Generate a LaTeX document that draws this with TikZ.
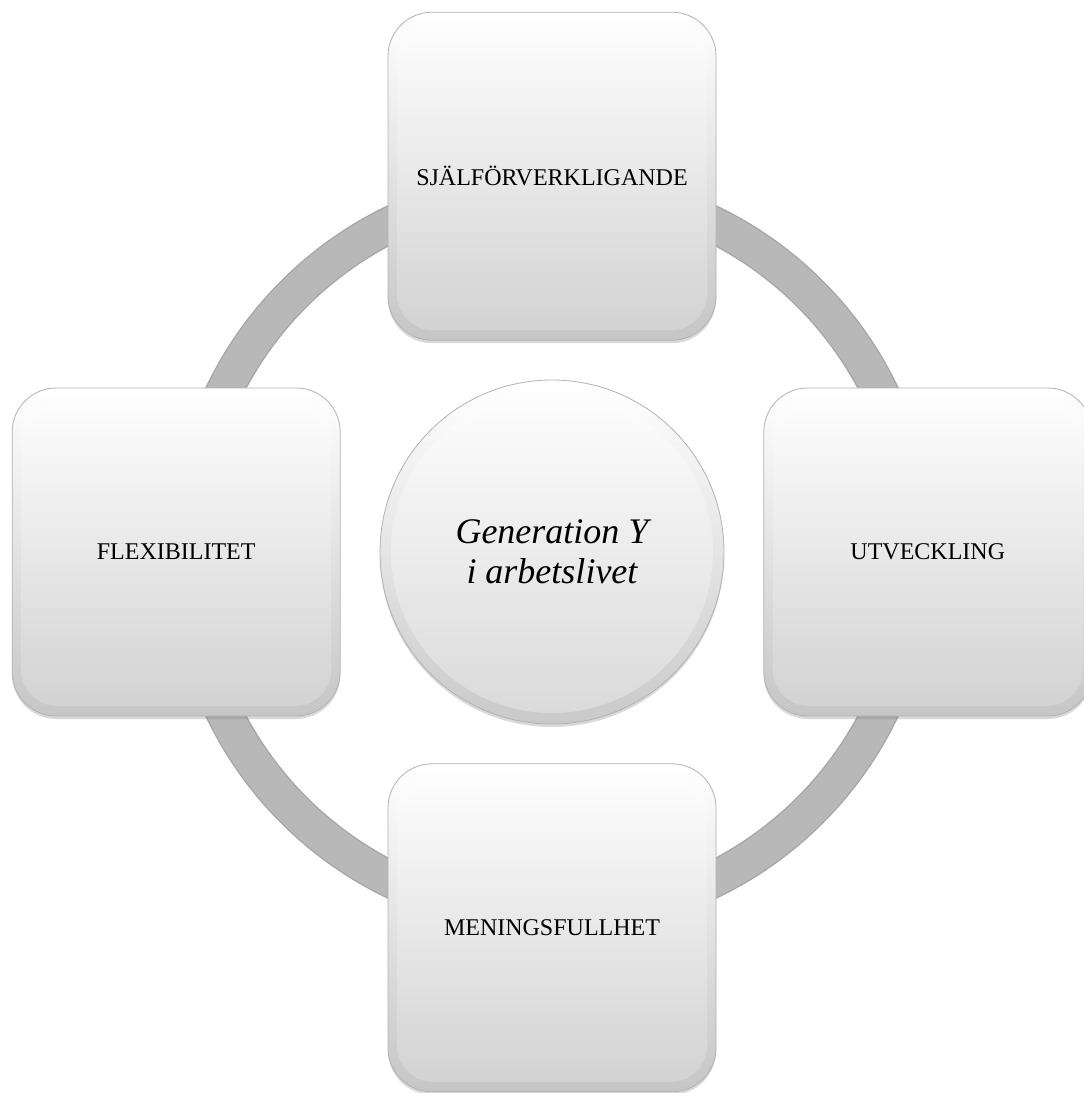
\documentclass[tikz,border=0pt]{standalone}
\usepackage{fontspec}
\setmainfont{Liberation Serif}
\usetikzlibrary{positioning,shadows}

\begin{document}
\begin{tikzpicture}[
  x=1pt, y=-1pt,
  node distance=39pt,
  ring/.style={line width=36pt, draw=gray!56},
  ringedge/.style={line width=1.2pt, draw=gray!70},
  cyclebox/.style={draw=gray!60, line width=0.8pt, rounded corners=44pt,
    minimum width=328pt, minimum height=328pt, align=center,
    top color=white, bottom color=gray!45,
    font=\fontsize{24}{28}\selectfont,
    drop shadow={shadow xshift=0pt, shadow yshift=-3pt, opacity=0.3, fill=gray},
    path picture={\shade[rounded corners=36pt, top color=white, middle color=gray!4, bottom color=gray!36]
      ([shift={(9pt,10pt)}]path picture bounding box.south west) rectangle
      ([shift={(-9pt,-12pt)}]path picture bounding box.north east);}},
  hub/.style={circle, draw=gray!60, line width=0.8pt, minimum size=344pt, align=center,
    top color=white, bottom color=gray!42,
    font=\fontsize{36}{40}\selectfont\itshape,
    drop shadow={shadow xshift=0pt, shadow yshift=-3pt, opacity=0.3, fill=gray},
    path picture={\shade[top color=white, middle color=gray!4, bottom color=gray!30]
      (path picture bounding box.center) circle (161pt);}}
]
\useasboundingbox (0,0) rectangle (1084,1093);
\coordinate (mid) at (552,552);

% ring behind the boxes
\draw[ring] (mid) circle (365);
\draw[ringedge] (mid) circle (383);
\draw[ringedge] (mid) circle (347);

\node[hub] (gen) at (mid) {Generation Y\\i arbetslivet};

\node[cyclebox, above=of gen] (self) {SJÄLFÖRVERKLIGANDE};
\node[cyclebox, right=of gen] (dev) {UTVECKLING};
\node[cyclebox, below=of gen] (mean) {MENINGSFULLHET};
\node[cyclebox, left=of gen] (flex) {FLEXIBILITET};
\end{tikzpicture}
\end{document}
